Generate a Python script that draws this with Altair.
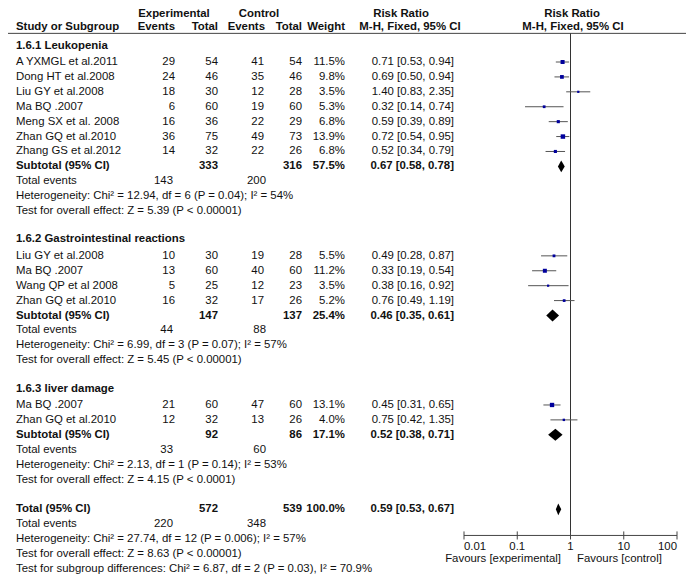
import altair as alt
import pandas as pd

# ---------------- data ----------------
group_titles = ["1.6.1 Leukopenia", "1.6.2 Gastrointestinal reactions", "1.6.3 liver damage"]

study_names = [
    ["A YXMGL et al.2011", "Dong HT et al.2008", "Liu GY et al.2008", "Ma BQ .2007",
     "Meng SX et al. 2008", "Zhan GQ et al.2010", "Zhang GS et al.2012"],
    ["Liu GY et al.2008", "Ma BQ .2007", "Wang QP et al 2008", "Zhan GQ et al.2010"],
    ["Ma BQ .2007", "Zhan GQ et al.2010"],
]
exp_events = [[29, 24, 18, 6, 16, 36, 14], [10, 13, 5, 16], [21, 12]]
exp_total = [[54, 46, 30, 60, 36, 75, 32], [30, 60, 25, 32], [60, 32]]
ctl_events = [[41, 35, 12, 19, 22, 49, 22], [19, 40, 12, 17], [47, 13]]
ctl_total = [[54, 46, 28, 60, 29, 73, 26], [28, 60, 23, 26], [60, 26]]
weights = [[11.5, 9.8, 3.5, 5.3, 6.8, 13.9, 6.8], [5.5, 11.2, 3.5, 5.2], [13.1, 4.0]]
rr = [[0.71, 0.69, 1.40, 0.32, 0.59, 0.72, 0.52], [0.49, 0.33, 0.38, 0.76], [0.45, 0.75]]
rr_lo = [[0.53, 0.50, 0.83, 0.14, 0.39, 0.54, 0.34], [0.28, 0.19, 0.16, 0.49], [0.31, 0.42]]
rr_hi = [[0.94, 0.94, 2.35, 0.74, 0.89, 0.95, 0.79], [0.87, 0.54, 0.92, 1.19], [0.65, 1.35]]

sub_exp_total = [333, 147, 92]
sub_ctl_total = [316, 137, 86]
sub_weight = [57.5, 25.4, 17.1]
sub_rr = [0.67, 0.46, 0.52]
sub_lo = [0.58, 0.35, 0.38]
sub_hi = [0.78, 0.61, 0.71]
sub_exp_events = [143, 44, 33]
sub_ctl_events = [200, 88, 60]
sub_het = [
    "Heterogeneity: Chi² = 12.94, df = 6 (P = 0.04); I² = 54%",
    "Heterogeneity: Chi² = 6.99, df = 3 (P = 0.07); I² = 57%",
    "Heterogeneity: Chi² = 2.13, df = 1 (P = 0.14); I² = 53%",
]
sub_test = [
    "Test for overall effect: Z = 5.39 (P < 0.00001)",
    "Test for overall effect: Z = 5.45 (P < 0.00001)",
    "Test for overall effect: Z = 4.15 (P < 0.0001)",
]

tot_exp_total, tot_ctl_total, tot_weight = 572, 539, 100.0
tot_rr, tot_lo, tot_hi = 0.59, 0.53, 0.67
tot_exp_events, tot_ctl_events = 220, 348
tot_notes = [
    "Heterogeneity: Chi² = 27.74, df = 12 (P = 0.006); I² = 57%",
    "Test for overall effect: Z = 8.63 (P < 0.00001)",
    "Test for subgroup differences: Chi² = 6.87, df = 2 (P = 0.03), I² = 70.9%",
]

tick_values = [0.01, 0.1, 1, 10, 100]
tick_labels = ["0.01", "0.1", "1", "10", "100"]

# ---------------- tables built from the arrays ----------------
def ci_text(e, l, h):
    return f"{e:.2f} [{l:.2f}, {h:.2f}]"

studies, headings, subs, events, notes = [], [], [], [], []
row = 0
for g in range(3):
    headings.append({"row": row - 0.1, "text": group_titles[g]})
    row += 1
    for i, nm in enumerate(study_names[g]):
        studies.append({
            "row": row, "name": nm, "ee": str(exp_events[g][i]), "et": str(exp_total[g][i]),
            "ce": str(ctl_events[g][i]), "ct": str(ctl_total[g][i]),
            "weight": weights[g][i], "wtext": f"{weights[g][i]:.1f}%",
            "rr": rr[g][i], "lo": rr_lo[g][i], "hi": rr_hi[g][i],
            "rtext": ci_text(rr[g][i], rr_lo[g][i], rr_hi[g][i]),
        })
        row += 1
    subs.append({"row": row, "name": "Subtotal (95% CI)", "et": str(sub_exp_total[g]),
                 "ct": str(sub_ctl_total[g]), "wtext": f"{sub_weight[g]:.1f}%",
                 "rr": sub_rr[g], "lo": sub_lo[g], "hi": sub_hi[g],
                 "rtext": ci_text(sub_rr[g], sub_lo[g], sub_hi[g])})
    row += 1
    events.append({"row": row, "ee": str(sub_exp_events[g]), "ce": str(sub_ctl_events[g])})
    row += 1
    notes.append({"row": row, "text": sub_het[g]})
    row += 1
    notes.append({"row": row, "text": sub_test[g]})
    row += 2

subs.append({"row": row, "name": "Total (95% CI)", "et": str(tot_exp_total),
             "ct": str(tot_ctl_total), "wtext": f"{tot_weight:.1f}%",
             "rr": tot_rr, "lo": tot_lo, "hi": tot_hi,
             "rtext": ci_text(tot_rr, tot_lo, tot_hi)})
row += 1
events.append({"row": row, "ee": str(tot_exp_events), "ce": str(tot_ctl_events)})
row += 1
for t in tot_notes:
    notes.append({"row": row, "text": t})
    row += 1

df_st = pd.DataFrame(studies)
df_hd = pd.DataFrame(headings)
df_sub = pd.DataFrame(subs)
df_ev = pd.DataFrame(events)
df_nt = pd.DataFrame(notes)

# diamonds
dia = []
for k, s in enumerate(subs):
    dia.append({"grp": k, "x": s["lo"], "y": s["row"], "y2": s["row"]})
    dia.append({"grp": k, "x": s["rr"], "y": s["row"] - 0.4, "y2": s["row"] + 0.4})
    dia.append({"grp": k, "x": s["hi"], "y": s["row"], "y2": s["row"]})
df_dia = pd.DataFrame(dia)

# ---------------- styling / layout ----------------
FONT = "Liberation Sans"
FS = 11.4
W, H = 678, 566
HEAD1, HEAD2, HEAD_LINE = -2.2, -1.33, -0.92
AXIS_ROW = 32.75

yS = alt.Scale(domain=[1, 35], range=[54, 561], zero=False, nice=False)
xS = alt.Scale(type="log", domain=[0.01, 100], range=[456, 669], nice=False)


def X(p):  # page pixel -> chart pixel
    return alt.value(p - 8)


def txt(df, field, px, align="left", bold=False, color="#111"):
    return alt.Chart(df).mark_text(
        align=align, baseline="middle", font=FONT, fontSize=FS,
        fontWeight="bold" if bold else "normal", color=color
    ).encode(
        x=X(px),
        y=alt.Y("row:Q", scale=yS, axis=None),
        text=alt.Text(f"{field}:N"),
    )


def label(text, r, px, align="left", bold=True):
    return txt(pd.DataFrame({"row": [r], "t": [text]}), "t", px, align, bold)


layers = []
# headers
layers += [
    label("Experimental", HEAD1, 174, "center"),
    label("Control", HEAD1, 259, "center"),
    label("Risk Ratio", HEAD1, 401, "center"),
    label("Risk Ratio", HEAD1, 572, "center"),
    label("Study or Subgroup", HEAD2, 16),
    label("Events", HEAD2, 175, "right"),
    label("Total", HEAD2, 218, "right"),
    label("Events", HEAD2, 265, "right"),
    label("Total", HEAD2, 302, "right"),
    label("Weight", HEAD2, 345, "right"),
    label("M-H, Fixed, 95% CI", HEAD2, 410, "center"),
    label("M-H, Fixed, 95% CI", HEAD2, 573, "center"),
]
layers.append(
    alt.Chart(pd.DataFrame({"row": [HEAD_LINE]})).mark_rule(color="#444", strokeWidth=1).encode(
        x=alt.value(0), x2=alt.value(W), y=alt.Y("row:Q", scale=yS, axis=None))
)
# group headings
layers.append(txt(df_hd, "text", 16, bold=True))
# studies
layers += [
    txt(df_st, "name", 16),
    txt(df_st, "ee", 175, "right"),
    txt(df_st, "et", 218, "right"),
    txt(df_st, "ce", 264, "right"),
    txt(df_st, "ct", 302, "right"),
    txt(df_st, "wtext", 345, "right"),
    txt(df_st, "rtext", 454, "right"),
]
# subtotals
layers += [
    txt(df_sub, "name", 16, bold=True),
    txt(df_sub, "et", 218, "right", True),
    txt(df_sub, "ct", 302, "right", True),
    txt(df_sub, "wtext", 345, "right", True),
    txt(df_sub, "rtext", 454, "right", True),
]
# total events
df_ev["lab"] = "Total events"
layers += [
    txt(df_ev, "lab", 16),
    txt(df_ev, "ee", 173, "right"),
    txt(df_ev, "ce", 266, "right"),
]
# notes
layers.append(txt(df_nt, "text", 16))

# forest: vertical line of no effect
layers.append(
    alt.Chart(pd.DataFrame({"x": [1], "y": [HEAD_LINE], "y2": [AXIS_ROW]})).mark_rule(
        color="#333", strokeWidth=1).encode(
        x=alt.X("x:Q", scale=xS, axis=None),
        y=alt.Y("y:Q", scale=yS, axis=None), y2="y2:Q")
)
# CI lines
layers.append(
    alt.Chart(df_st).mark_rule(color="#555", strokeWidth=1).encode(
        x=alt.X("lo:Q", scale=xS, axis=None), x2="hi:Q",
        y=alt.Y("row:Q", scale=yS, axis=None))
)
# squares
layers.append(
    alt.Chart(df_st).mark_square(filled=True, color="#00009C", opacity=1).encode(
        x=alt.X("rr:Q", scale=xS, axis=None),
        y=alt.Y("row:Q", scale=yS, axis=None),
        size=alt.Size("weight:Q", scale=alt.Scale(domain=[0, 14], range=[0, 20]), legend=None))
)
# diamonds
layers.append(
    alt.Chart(df_dia).mark_area(color="#000", opacity=1, interpolate="linear").encode(
        x=alt.X("x:Q", scale=xS, axis=None),
        y=alt.Y("y:Q", scale=yS, axis=None, stack=None), y2="y2:Q",
        detail="grp:N")
)
# axis
df_tk = pd.DataFrame({"x": tick_values, "lab": tick_labels,
                      "y": [AXIS_ROW - 0.27] * 5, "y2": [AXIS_ROW + 0.27] * 5})
layers.append(
    alt.Chart(pd.DataFrame({"x": [tick_values[0]], "x2": [tick_values[-1]], "y": [AXIS_ROW]})).mark_rule(
        color="#444").encode(
        x=alt.X("x:Q", scale=xS, axis=None), x2="x2:Q",
        y=alt.Y("y:Q", scale=yS, axis=None))
)
layers.append(
    alt.Chart(df_tk).mark_rule(color="#444").encode(
        x=alt.X("x:Q", scale=xS, axis=None),
        y=alt.Y("y:Q", scale=yS, axis=None), y2="y2:Q")
)
for sel, al in [(lambda d: d.iloc[[0]], "left"), (lambda d: d.iloc[1:4], "center"),
                (lambda d: d.iloc[[4]], "right")]:
    d = sel(df_tk).copy()
    d["row"] = AXIS_ROW + 0.8
    layers.append(
        alt.Chart(d).mark_text(align=al, baseline="middle", font=FONT, fontSize=FS, color="#111").encode(
            x=alt.X("x:Q", scale=xS, axis=None),
            y=alt.Y("row:Q", scale=yS, axis=None),
            text="lab:N")
    )
layers += [
    label("Favours [experimental]", AXIS_ROW + 1.55, 561, "right", bold=False),
    label("Favours [control]", AXIS_ROW + 1.55, 577, "left", bold=False),
]

chart = alt.layer(*layers).properties(
    width=W, height=H, padding=0, autosize="none", background="white"
).configure_view(stroke=None)

chart.save("out.html", embed_options={"renderer": "svg", "actions": False})
